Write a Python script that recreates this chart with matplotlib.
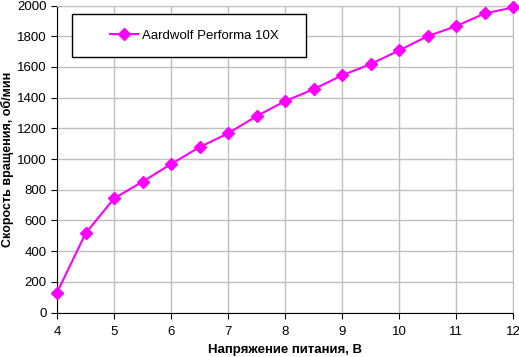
import numpy as np
import matplotlib.pyplot as plt
from matplotlib.patches import Rectangle

plt.rcParams['font.family'] = ['Liberation Sans', 'DejaVu Sans']

# Данные
voltage = [4, 4.5, 5, 5.5, 6, 6.5, 7, 7.5, 8, 8.5, 9, 9.5, 10, 10.5, 11, 11.5, 12]
rpm = [130, 515, 743, 852, 967, 1077, 1167, 1279, 1377, 1454, 1545, 1618, 1707,
       1800, 1865, 1948, 1987]
series_name = 'Aardwolf Performa 10X'
x_ticks = [4, 5, 6, 7, 8, 9, 10, 11, 12]
y_ticks = np.arange(0, 2001, 200)

W, H = 519, 357
fig = plt.figure(figsize=(W / 100, H / 100), dpi=100)
ax = fig.add_axes([57 / W, 1 - 312.5 / H, (513 - 57) / W, (312.5 - 5.5) / H])

ax.plot(voltage, rpm, color='#ff00ff', linewidth=1.5, marker='D', markersize=6,
        label=series_name, clip_on=False, zorder=3)

ax.set_xlim(4, 12)
ax.set_ylim(0, 2000)
ax.set_xticks(x_ticks)
ax.set_yticks(y_ticks)
ax.grid(True, color='#c0c0c0', linewidth=1)
ax.set_axisbelow(True)
for s in ['top', 'right']:
    ax.spines[s].set_color('#c0c0c0')
for s in ['left', 'bottom']:
    ax.spines[s].set_color('black')
ax.tick_params(direction='out', length=4, labelsize=9.5, colors='black')
ax.tick_params(axis='x', pad=6)

ax.set_xlabel('Напряжение питания, В', fontsize=9.5, fontweight='bold', labelpad=4)
ax.set_ylabel('Скорость вращения, об/мин', fontsize=9, fontweight='bold')
ax.yaxis.set_label_coords(-0.095, 0.5)

# рамка легенды (в пикселях рисунка)
box = Rectangle((72 / W, 1 - 57 / H), (306 - 72) / W, (57 - 14) / H,
                transform=fig.transFigure, facecolor='white', edgecolor='black',
                linewidth=1, zorder=4)
fig.patches.append(box)
leg = fig.legend(loc='center left', bbox_to_anchor=(110 / W, 1 - 35.5 / H),
                 frameon=False, fontsize=9.5, borderpad=0, borderaxespad=0,
                 handlelength=2.1, handletextpad=0.3)
leg.set_zorder(5)

fig.savefig('out.png', dpi=100)
